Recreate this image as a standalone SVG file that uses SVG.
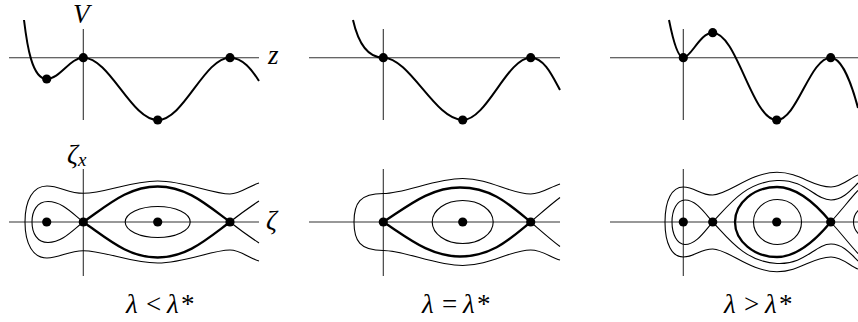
<svg xmlns="http://www.w3.org/2000/svg" width="858" height="322" viewBox="0 0 858 322">
<style>
.ax{stroke:#333;stroke-width:1.1;fill:none}
.pot{stroke:#000;stroke-width:2;fill:none}
.thin{stroke:#000;stroke-width:1.1;fill:none}
.thick{stroke:#000;stroke-width:2.3;fill:none}
.dot{fill:#000}
.t{font-family:"Liberation Serif","DejaVu Serif",serif;font-size:27px;fill:#000}
.it{font-style:italic}
</style>
<rect width="858" height="322" fill="#fff"/>

<g id="potential-1">
<line class="ax" x1="9" y1="57.7" x2="259" y2="57.7"/>
<line class="ax" x1="83.3" y1="29" x2="83.3" y2="120"/>
<path class="pot" d="M24,20 C27,45 32,79 46.7,79 C60,79 70,57.7 83.3,57.7 C110,57.7 131,120 157.7,120 C184,120 204,57.7 230,57.7 C243,57.7 252,70 259,81"/>
<circle class="dot" cx="46.7" cy="79" r="4.6"/>
<circle class="dot" cx="83.3" cy="57.7" r="4.6"/>
<circle class="dot" cx="157.7" cy="120" r="4.6"/>
<circle class="dot" cx="230" cy="57.7" r="4.6"/>
<text class="t it" x="73" y="23" font-size="23">V</text>
<text class="t it" x="268" y="64">z</text>
</g>

<g id="potential-2">
<line class="ax" x1="309" y1="57.7" x2="560" y2="57.7"/>
<line class="ax" x1="383.3" y1="29" x2="383.3" y2="120"/>
<path class="pot" d="M353,20 C358,42 367,57.7 383.3,57.7 C410,57.7 435,120 462.7,120 C487,120 507,57.7 530.7,57.7 C544,57.7 552,75 560,90"/>
<circle class="dot" cx="383.3" cy="57.7" r="4.6"/>
<circle class="dot" cx="462.7" cy="120" r="4.6"/>
<circle class="dot" cx="530.7" cy="57.7" r="4.6"/>
</g>

<g id="potential-3">
<line class="ax" x1="610" y1="57.7" x2="858" y2="57.7"/>
<line class="ax" x1="683.3" y1="29" x2="683.3" y2="120"/>
<path class="pot" d="M669,20 C673,40 678,57.7 683.3,57.7 C691,57.7 700,32.7 712.7,32.7 C737,32.7 752,120 776.7,120 C797,120 810,57.7 830.7,57.7 C842,57.7 852,85 858,108"/>
<circle class="dot" cx="683.3" cy="57.7" r="4.6"/>
<circle class="dot" cx="712.7" cy="32.7" r="4.6"/>
<circle class="dot" cx="776.7" cy="120" r="4.6"/>
<circle class="dot" cx="830.7" cy="57.7" r="4.6"/>
</g>

<g id="phase-1">
<line class="ax" x1="9" y1="222" x2="259" y2="222"/>
<line class="ax" x1="83.3" y1="169" x2="83.3" y2="276"/>
<path class="thin" d="M259,183 C249,186 240,194 230,194 C212,194 185,181 157.7,181 C130,181 105,193.3 83.3,193.3 C68,193.3 60,186 47,186 C33,186 25,200 25,222 C25,244 33,258 47,258 C60,258 68,250.7 83.3,250.7 C105,250.7 130,263 157.7,263 C185,263 212,250 230,250 C240,250 249,258 259,261"/>
<path class="thin" d="M83.3,222 C72,213 62,201.5 48,201.5 C37,201.5 32,211 32,222 C32,233 37,242.5 48,242.5 C62,242.5 72,231 83.3,222 Z"/>
<ellipse class="thin" cx="157.7" cy="222" rx="32.5" ry="15.5"/>
<path class="thin" d="M230,222 C240,214 250,207 259,201 M230,222 C240,230 250,237 259,243"/>
<path class="thick" d="M83.3,222 C108,205 128,186.5 157.7,186.5 C187,186.5 207,205 230,222 C207,239 187,257.5 157.7,257.5 C128,257.5 108,239 83.3,222 Z"/>
<circle class="dot" cx="46.7" cy="222" r="4.6"/>
<circle class="dot" cx="83.3" cy="222" r="4.6"/>
<circle class="dot" cx="157.7" cy="222" r="4.6"/>
<circle class="dot" cx="230" cy="222" r="4.6"/>
<text class="t it" x="67" y="163">ζ<tspan font-size="19" dy="3">x</tspan></text>
<text class="t it" x="266" y="229">ζ</text>
<text class="t"><tspan class="it" x="126" y="313">λ</tspan><tspan x="146" y="313">&lt;</tspan><tspan class="it" x="167" y="313">λ</tspan><tspan x="181" y="313">*</tspan></text>
</g>

<g id="phase-2">
<line class="ax" x1="309" y1="222" x2="560" y2="222"/>
<line class="ax" x1="383.3" y1="169" x2="383.3" y2="276"/>
<path class="thin" d="M560,184 C550,187 542,194 530.7,194 C510,194 490,178.5 462.7,178.5 C435,178.5 405,193.5 383.3,193.5 C360,193.5 354,203 354,222 C354,241 360,250.5 383.3,250.5 C405,250.5 435,265.5 462.7,265.5 C490,265.5 510,250 530.7,250 C542,250 550,257 560,260"/>
<ellipse class="thin" cx="462.7" cy="222" rx="30.5" ry="21.5"/>
<path class="thin" d="M530.7,222 C540,214 550,205 560,197.5 M530.7,222 C540,230 550,239 560,246.5"/>
<path class="thick" d="M383.3,222 C408,206 430,187.5 460,187.5 C492,187.5 510,205 530.7,222 C510,239 492,256.5 460,256.5 C430,256.5 408,238 383.3,222 Z"/>
<circle class="dot" cx="383.3" cy="222" r="4.6"/>
<circle class="dot" cx="462.7" cy="222" r="4.6"/>
<circle class="dot" cx="530.7" cy="222" r="4.6"/>
<text class="t"><tspan class="it" x="422" y="313">λ</tspan><tspan x="442" y="313">=</tspan><tspan class="it" x="463" y="313">λ</tspan><tspan x="477" y="313">*</tspan></text>
</g>

<g id="phase-3">
<line class="ax" x1="610" y1="222" x2="858" y2="222"/>
<line class="ax" x1="683.3" y1="169" x2="683.3" y2="276"/>
<path class="thin" d="M858,175 C850,178 842,187 831,187 C812,187 800,172.3 777,172.3 C750,172.3 728,195 712.7,195 C700,195 695,187 683.3,187 C672,187 665,200 665,222 C665,244 672,257 683.3,257 C695,257 700,249 712.7,249 C728,249 750,271.7 777,271.7 C800,271.7 812,257 831,257 C842,257 850,266 858,269"/>
<path class="thin" d="M712.7,222 C728,206 745,182 777,180.5 C805,179 815,200 831,200 C843,200 851,190 858,183"/>
<path class="thin" d="M712.7,222 C728,238 745,262 777,263.5 C805,265 815,244 831,244 C843,244 851,254 858,261"/>
<path class="thin" d="M712.7,222 C704,212 696,200 685,200 C677,200 672,210 672,222 C672,234 677,244.5 685,244.5 C696,244.5 704,232 712.7,222 Z"/>
<ellipse class="thin" cx="777.5" cy="222" rx="24" ry="22.5"/>
<path class="thin" d="M830.7,222 C840,212 850,199 858,190.5 M830.7,222 C840,232 850,245 858,253.5"/>
<ellipse class="thin" cx="869" cy="222" rx="15.5" ry="16"/>
<path class="thick" d="M830.7,222 C815,203 797,187 777,187 C754,187 735,203 735,222 C735,241 754,257 777,257 C797,257 815,241 830.7,222 Z"/>
<circle class="dot" cx="683.3" cy="222" r="4.6"/>
<circle class="dot" cx="712.7" cy="222" r="4.6"/>
<circle class="dot" cx="776.7" cy="222" r="4.6"/>
<circle class="dot" cx="830.7" cy="222" r="4.6"/>
<text class="t"><tspan class="it" x="724" y="313">λ</tspan><tspan x="744" y="313">&gt;</tspan><tspan class="it" x="765" y="313">λ</tspan><tspan x="779" y="313">*</tspan></text>
</g>
</svg>
